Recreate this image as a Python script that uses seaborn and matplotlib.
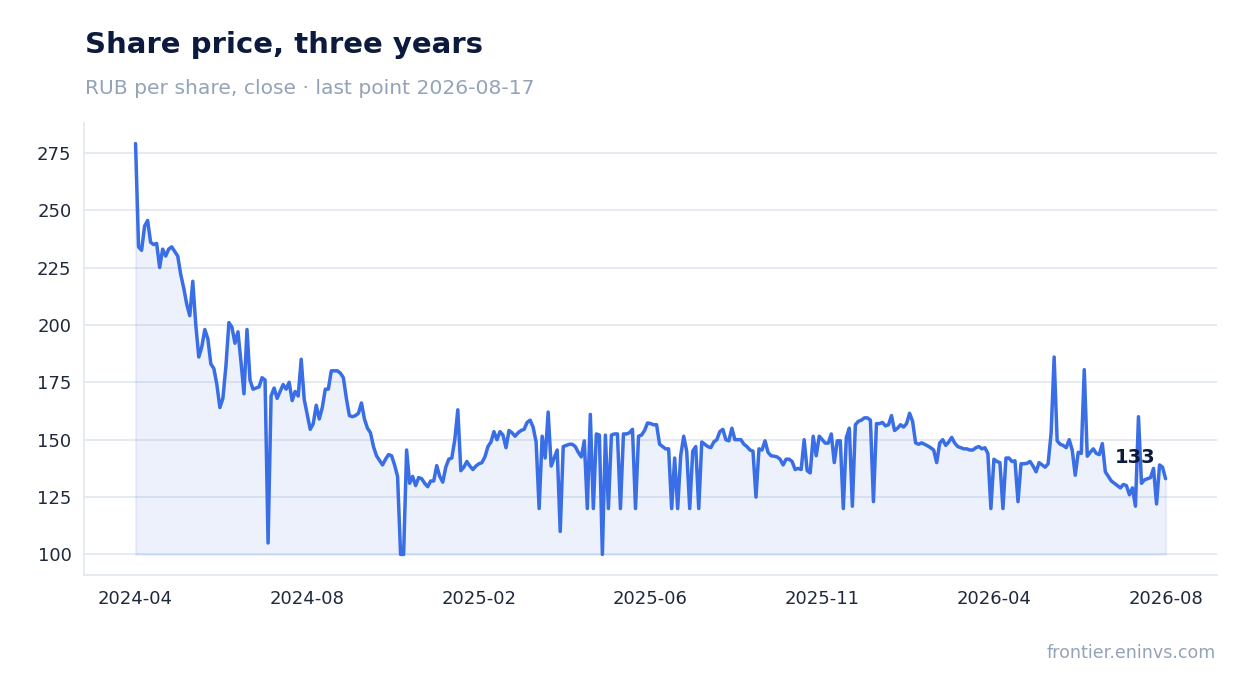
import numpy as np
import pandas as pd
import matplotlib
matplotlib.use("Agg")
import matplotlib.pyplot as plt
import seaborn as sns

# closing price (one value per ~3 px step)
price = [
    279, 234, 232.5, 243, 245.5, 236, 235, 235.5, 225, 233,
    230, 233, 234, 232, 230, 222, 216, 209, 204, 219,
    200, 186, 190.5, 198, 194, 183, 181, 174, 164, 168,
    182, 201, 199, 192, 197, 184, 170, 198, 176, 172,
    172.5, 173, 177, 176, 105, 169, 172.5, 168, 171, 174,
    172, 175, 167, 171, 169, 185, 167.5, 161, 154.5, 157,
    165, 159, 164, 172, 172, 180, 180, 180, 179, 177,
    168, 160.5, 160, 160.5, 161.5, 166, 159, 155, 153, 147,
    143, 141, 139, 141.5, 143.5, 143, 139, 134, 100, 100,
    145.5, 131, 134, 130, 133.5, 133, 131, 129.5, 132, 132,
    138.7, 134, 131.5, 138, 141.5, 142, 150, 163, 136.5, 138,
    140.5, 138.5, 137, 138.5, 139.5, 140, 142.5, 147, 149, 153.5,
    150, 153.5, 152, 146.5, 154, 153, 151.5, 153, 154, 154.5,
    157.5, 158.5, 155.5, 149, 120, 151.5, 142, 162, 138.5, 142,
    145.5, 110, 147, 147.5, 148, 148, 147, 144.5, 142.5, 149.5,
    120, 161, 120, 152.5, 152, 100, 152, 120, 152, 152.5,
    152.5, 120, 152.5, 152.5, 153, 154.5, 120, 151.5, 152, 154,
    157.3, 157, 156.5, 156.5, 148, 147, 146, 146, 120, 142,
    120, 143, 151.5, 145, 120, 145, 147, 120, 149, 148,
    147, 146.5, 149, 150, 153.5, 154.5, 150, 149.5, 155, 150,
    150, 150, 148, 147, 145.5, 145, 125, 146, 145.5, 149.5,
    144.5, 143, 142.8, 142.5, 141.5, 139, 141.5, 141.5, 140.5, 137,
    137.5, 137, 150, 136.5, 135.5, 151.5, 143, 151.5, 150, 148.5,
    148.5, 152.5, 140, 149.5, 149.5, 120, 151, 155, 121, 156.5,
    158, 158.5, 159.5, 159.5, 158.5, 123, 157, 157, 157.5, 156,
    156.5, 160.5, 154, 155, 156.5, 155.5, 157, 161.5, 158, 148.6,
    148, 148.6, 148, 147.3, 146.5, 145.5, 140, 148.5, 150, 147.5,
    149, 151, 148.5, 147, 146.5, 146, 146, 145.5, 145.5, 146.5,
    147, 146, 146.5, 144, 120, 141.5, 140.5, 140, 120, 142,
    142, 140.5, 140.8, 123, 139.5, 139.5, 139.7, 140.5, 138.5, 136,
    140, 139, 138, 139.5, 153, 186, 149.5, 148, 147.5, 146.5,
    150, 145.5, 134.5, 144.5, 144, 180.5, 142.8, 144.5, 146, 144,
    143.5, 148.3, 136, 134, 132, 131, 130, 129, 130.5, 130,
    126, 129, 121, 160, 131, 132.5, 133, 133.5, 137.5, 122,
    139, 138, 133,
]
tick_labels = ["2024-04", "2024-08", "2025-02", "2025-06", "2025-11", "2026-04", "2026-08"]
y_ticks = [100, 125, 150, 175, 200, 225, 250, 275]
last_date = "2026-08-17"

LINE = "#3a6ee6"
NAVY = "#0b1a3d"
MUTED = "#94a3b8"
GRID = "#e2e8f0"

sns.set_theme(style="white")
plt.rcParams['font.family'] = ['DejaVu Sans']

df = pd.DataFrame({"step": np.arange(len(price)), "close": price})

fig = plt.figure(figsize=(12.47, 6.93), dpi=100)
ax = fig.add_axes([0.0674, 0.1703, 0.9086, 0.6522])

ax.fill_between(df["step"], df["close"], df["close"].min(), color=LINE, alpha=0.09, linewidth=1.5)
sns.lineplot(data=df, x="step", y="close", ax=ax, color=LINE, linewidth=2.5,
             solid_joinstyle="round", solid_capstyle="round")

ax.set_yticks(y_ticks)
ax.set_xticks(np.linspace(0, len(price) - 1, len(tick_labels)))
ax.set_xticklabels(tick_labels)
ax.set_xlabel("")
ax.set_ylabel("")

ax.grid(axis="y", color=GRID, linewidth=1.2)
ax.grid(axis="x", visible=False)
ax.set_axisbelow(True)
for side in ["top", "right"]:
    ax.spines[side].set_visible(False)
for side in ["left", "bottom"]:
    ax.spines[side].set_color(GRID)
    ax.spines[side].set_linewidth(1.2)
ax.tick_params(axis="both", length=5, width=1.2, color="#334155", labelcolor="#1e293b", labelsize=13)
ax.tick_params(axis="x", pad=6)
ax.tick_params(axis="y", pad=4)

# label for the last close
ax.annotate(f"{price[-1]:.0f}", xy=(len(price) - 1, price[-1]), xytext=(-7.5, 11),
            textcoords="offset points", ha="right", va="baseline",
            fontsize=14, fontweight="bold", color=NAVY)

fig.text(0.068, 0.9235, "Share price, three years", fontsize=21, fontweight="bold",
         color=NAVY, va="baseline")
fig.text(0.068, 0.864, f"RUB per share, close · last point {last_date}", fontsize=14.6,
         color=MUTED, va="baseline")
fig.text(0.975, 0.0505, "frontier.eninvs.com", fontsize=12.6, color=MUTED, ha="right", va="baseline")

fig.savefig("out.png", dpi=100)
